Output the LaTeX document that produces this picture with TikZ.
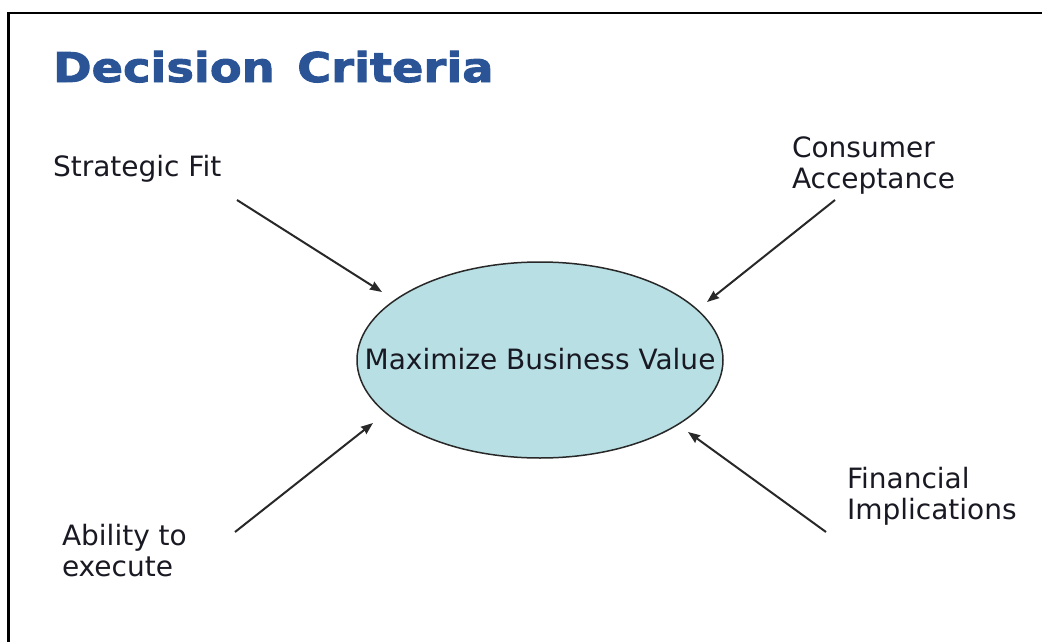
\documentclass[tikz,border=0pt]{standalone}
\usepackage{fontspec}
\setmainfont{DejaVu Sans}
\newfontfamily\titlefont[FakeStretch=1.13, FakeBold=2.2]{DejaVu Sans}
\usetikzlibrary{arrows.meta,shapes.geometric}

\definecolor{titleblue}{RGB}{42,84,150}
\definecolor{inktext}{RGB}{25,25,35}
\definecolor{goalfill}{RGB}{184,224,228}
\definecolor{arrowink}{RGB}{40,40,40}

\tikzset{
  criterion/.style={inner sep=0pt, outer sep=0pt, align=left, text=inktext,
    font=\fontsize{28pt}{31.5pt}\selectfont},
  goal/.style={ellipse, draw=arrowink, line width=1.5pt, fill=goalfill,
    minimum width=366pt, minimum height=196pt, inner sep=0pt, text=inktext,
    font=\fontsize{28pt}{31.5pt}\selectfont},
  feed/.style={draw=arrowink, line width=2pt,
    -{Stealth[length=12pt,width=9pt,inset=1pt]}},
}

\begin{document}
\begin{tikzpicture}[x=1pt,y=-1pt]
  \useasboundingbox (0,0) rectangle (1042,642);
  % frame: top and left edges only
  \draw[line width=2.5pt, black] (8.5,642) -- (8.5,13) -- (1042,13);

  % title
  \node[anchor=base west, inner sep=0pt, text=titleblue,
        font=\titlefont\bfseries\fontsize{41pt}{44pt}\selectfont]
        (title) at (53,82) {Decision\hspace{0.55em}Criteria};

  % central goal
  \node[goal] (goal) at (540,360) {\makebox[0pt]{\raisebox{3pt}{Maximize Business Value}}};

  % criteria
  \node[criterion, anchor=base west] (fit) at (53,176) {Strategic Fit};
  \node[criterion, anchor=north west] (consumer) at (792,136.5) {Consumer\\Acceptance};
  \node[criterion, anchor=north west] (ability) at (62,524) {Ability to\\execute};
  \node[criterion, anchor=north west] (finance) at (847,467) {Financial\\Implications};

  % arrow ends
  \coordinate (fit-t) at (237,200);
  \coordinate (fit-h) at (382,292);
  \coordinate (consumer-t) at (835,200);
  \coordinate (consumer-h) at (707,302);
  \coordinate (ability-t) at (235,532);
  \coordinate (ability-h) at (373,423);
  \coordinate (finance-t) at (826,532);
  \coordinate (finance-h) at (688,432);

  \draw[feed] (fit-t) -- (fit-h);
  \draw[feed] (consumer-t) -- (consumer-h);
  \draw[feed] (ability-t) -- (ability-h);
  \draw[feed] (finance-t) -- (finance-h);
\end{tikzpicture}
\end{document}
